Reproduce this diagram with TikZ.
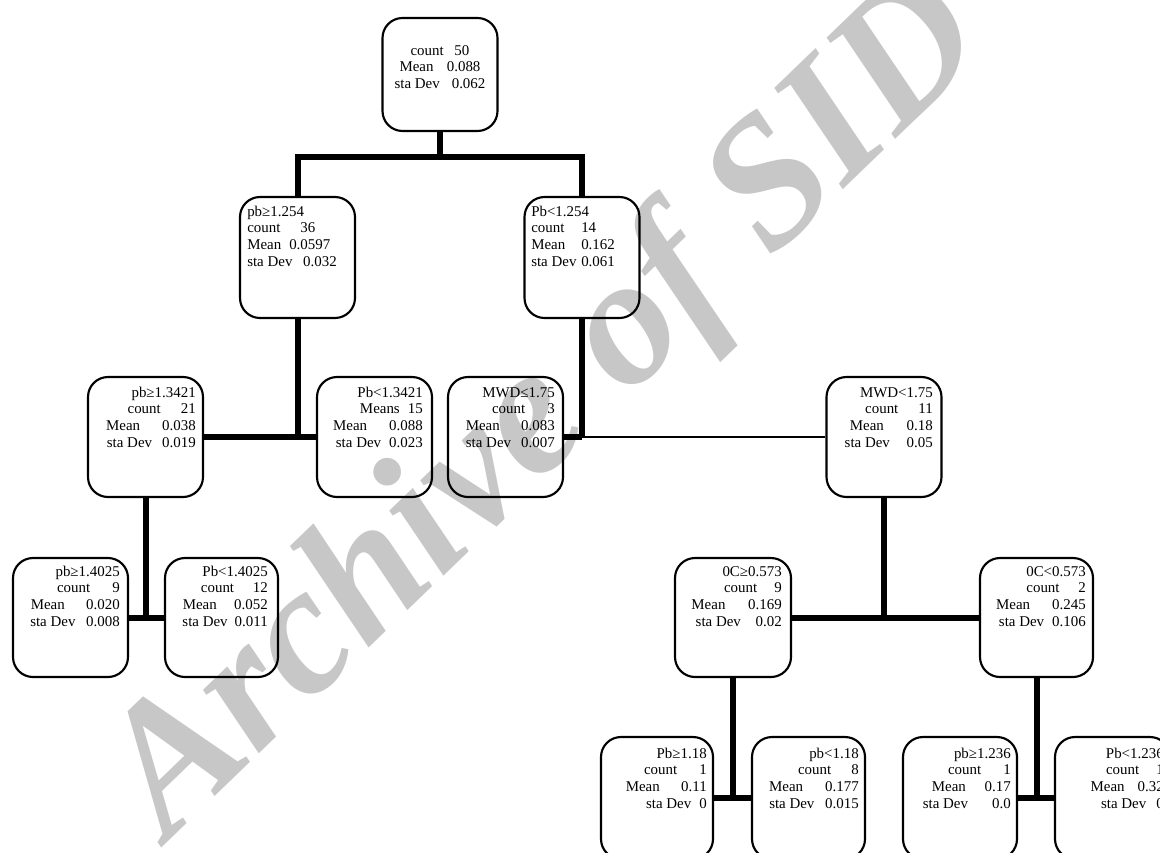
\documentclass[tikz,border=0pt]{standalone}
\usepackage{fontspec}
\setmainfont{Liberation Serif}
\newfontfamily\wmfont{Liberation Serif}
\usetikzlibrary{calc}
\begin{document}
\begin{tikzpicture}[x=0.75pt,y=-0.75pt,
  box/.style={draw=black, line width=1.6pt, rounded corners=15pt, inner sep=0pt, minimum width=86.25pt, minimum height=90pt},
  conn/.style={line width=4.5pt},
  thinconn/.style={line width=2pt},
  txt/.style={inner sep=0pt, font=\fontsize{11.2}{12.5}\selectfont},
  wm/.style={inner sep=0pt, text=black!22, font=\wmfont\bfseries\itshape\fontsize{138}{138}\selectfont}]
\useasboundingbox (0,0) rectangle (1160,853);
\clip (0,0) rectangle (1160,853);
% watermark
\node[wm, rotate=44, anchor=base west] (wm) at (168,842) {Archive of SID};
% boxes
\node[box, minimum height=84.75pt] (root) at (440,74.5) {};
\node[box, minimum height=90.75pt] (L2a) at (297.5,257.5) {};
\node[box, minimum height=90.75pt] (L2b) at (582,257.5) {};
\node[box] (L3a) at (145.5,437) {};
\node[box] (L3b) at (374.5,437) {};
\node[box] (L3c) at (505.5,437) {};
\node[box] (L3d) at (884,437) {};
\node[box, minimum height=89.25pt] (L4a) at (70.5,617.5) {};
\node[box, minimum width=84.75pt, minimum height=89.25pt] (L4b) at (221.5,617.5) {};
\node[box, minimum width=87pt, minimum height=89.25pt] (L4c) at (733,617.5) {};
\node[box, minimum width=84.75pt, minimum height=89.25pt] (L4d) at (1036.5,617.5) {};
\node[box, minimum width=84pt, minimum height=91.5pt] (L5a) at (657,798) {};
\node[box, minimum width=84.75pt, minimum height=91.5pt] (L5b) at (808.5,798) {};
\node[box, minimum width=85.5pt, minimum height=91.5pt] (L5c) at (960,798) {};
\node[box, minimum height=91.5pt] (L5d) at (1112.5,798) {};
% junctions
\coordinate (j0) at (440,157);
\coordinate (j2b) at (L2b.south |- L3c.east);
% connectors
\draw[conn] (root.south) -- (j0);
\draw[conn] (L2a.north) |- (j0) -| (L2b.north);
\draw[conn] (L2a.south) -- (L2a.south |- L3a.east);
\draw[conn] (L3a.east) -- (L3b.west);
\draw[conn] (L2b.south) -- (j2b);
\draw[conn] (L3c.east) -- (j2b);
\draw[thinconn] (j2b) -- (L3d.west);
\draw[conn] (L3a.south) -- (L3a.south |- L4a.east);
\draw[conn] (L4a.east) -- (L4b.west);
\draw[conn] (L3d.south) -- (L3d.south |- L4c.east);
\draw[conn] (L4c.east) -- (L4d.west);
\draw[conn] (L4c.south) -- (L4c.south |- L5a.east);
\draw[conn] (L5a.east) -- (L5b.west);
\draw[conn] (L4d.south) -- (L4d.south |- L5c.east);
\draw[conn] (L5c.east) -- (L5d.west);
% texts
\node[txt, anchor=base] (t0) at (440,55) {\begin{tabular}[t]{@{}c@{}}count\hspace{8pt}50\\Mean\hspace{10pt}0.088\\sta Dev\hspace{9pt}0.062\end{tabular}};
\node[txt, anchor=base west] (t2a) at (247,216) {\begin{tabular}[t]{@{}l@{}}pb≥1.254\\count\hspace{15pt}36\\Mean\hspace{6pt}0.0597\\sta Dev\hspace{8pt}0.032\end{tabular}};
\node[txt, anchor=base west] (t2b) at (531,216) {\begin{tabular}[t]{@{}l@{}l@{}}\multicolumn{2}{@{}l@{}}{Pb<1.254}\\\makebox[37.5pt][l]{count}&14\\\makebox[37.5pt][l]{Mean}&0.162\\\makebox[37.5pt][l]{sta Dev}&0.061\end{tabular}};
\node[txt, anchor=base east] (t3a) at (196,397) {\begin{tabular}[t]{@{}r@{}}pb≥1.3421\\count\hspace{15pt}21\\Mean\hspace{16.5pt}0.038\\sta Dev\hspace{7.5pt}0.019\end{tabular}};
\node[txt, anchor=base east] (t3b) at (423,397) {\begin{tabular}[t]{@{}r@{}}Pb<1.3421\\Means\hspace{6pt}15\\Mean\hspace{16.5pt}0.088\\sta Dev\hspace{6pt}0.023\end{tabular}};
\node[txt, anchor=base east] (t3c) at (555,397) {\begin{tabular}[t]{@{}r@{}}MWD≤1.75\\count\hspace{16.5pt}3\\Mean\hspace{16pt}0.083\\sta Dev\hspace{7.5pt}0.007\end{tabular}};
\node[txt, anchor=base east] (t3d) at (933,397) {\begin{tabular}[t]{@{}r@{}}MWD<1.75\\count\hspace{15pt}11\\Mean\hspace{17pt}0.18\\sta Dev\hspace{12.5pt}0.05\end{tabular}};
\node[txt, anchor=base east] (t4a) at (120,576) {\begin{tabular}[t]{@{}r@{}}pb≥1.4025\\count\hspace{16.5pt}9\\Mean\hspace{16pt}0.020\\sta Dev\hspace{8pt}0.008\end{tabular}};
\node[txt, anchor=base east] (t4b) at (268,576) {\begin{tabular}[t]{@{}r@{}}Pb<1.4025\\count\hspace{14pt}12\\Mean\hspace{13pt}0.052\\sta Dev\hspace{5.25pt}0.011\end{tabular}};
\node[txt, anchor=base east] (t4c) at (782,576) {\begin{tabular}[t]{@{}r@{}}0C≥0.573\\count\hspace{12.75pt}9\\Mean\hspace{17pt}0.169\\sta Dev\hspace{11pt}0.02\end{tabular}};
\node[txt, anchor=base east] (t4d) at (1086,576) {\begin{tabular}[t]{@{}r@{}}0C<0.573\\count\hspace{14pt}2\\Mean\hspace{16.5pt}0.245\\sta Dev\hspace{6pt}0.106\end{tabular}};
\node[txt, anchor=base east] (t5a) at (707,758) {\begin{tabular}[t]{@{}r@{}}Pb≥1.18\\count\hspace{16.5pt}1\\Mean\hspace{16pt}0.11\\sta Dev\hspace{6pt}0\end{tabular}};
\node[txt, anchor=base east] (t5b) at (859,758) {\begin{tabular}[t]{@{}r@{}}pb<1.18\\count\hspace{15pt}8\\Mean\hspace{16.5pt}0.177\\sta Dev\hspace{8pt}0.015\end{tabular}};
\node[txt, anchor=base east] (t5c) at (1011,758) {\begin{tabular}[t]{@{}r@{}}pb≥1.236\\count\hspace{16.5pt}1\\Mean\hspace{14pt}0.17\\sta Dev\hspace{18pt}0.0\end{tabular}};
\node[txt, anchor=base east] (t5d) at (1164,758) {\begin{tabular}[t]{@{}r@{}}Pb<1.236\\count\hspace{12.75pt}1\\Mean\hspace{9.75pt}0.32\\sta Dev\hspace{7.5pt}0\end{tabular}};
\end{tikzpicture}
\end{document}
